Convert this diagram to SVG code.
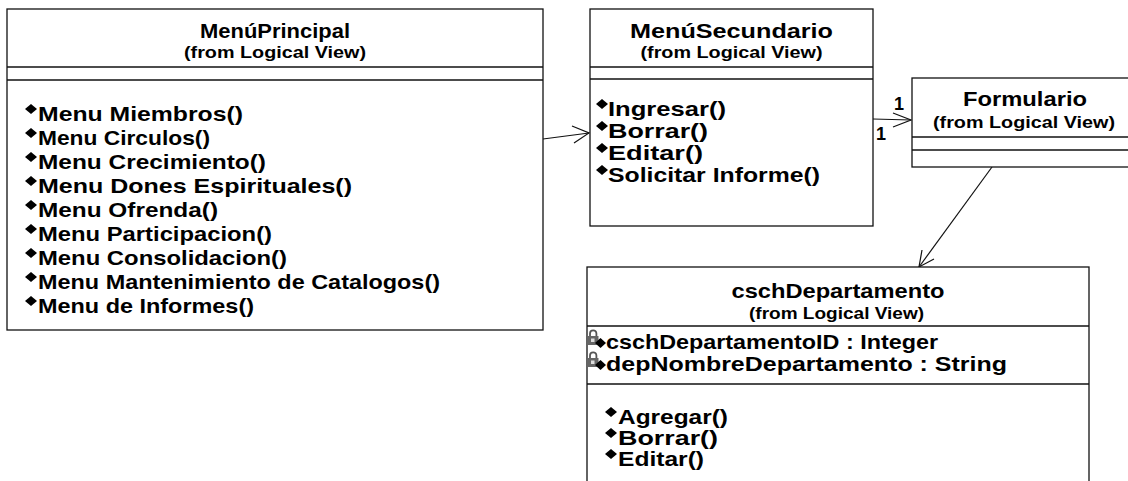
<svg xmlns="http://www.w3.org/2000/svg" width="1128" height="481" viewBox="0 0 1128 481">
  <defs>
    <style>
      .box { fill: #ffffff; stroke: #111111; stroke-width: 1.3; }
      .div { stroke: #111111; stroke-width: 1.3; }
      .t { font-family: "Liberation Sans", Arial, sans-serif; font-weight: bold; fill: #000000; }
      .title { font-size: 21px; }
      .from { font-size: 16px; }
      .m { font-size: 20.5px; }
      .conn { fill: none; stroke: #111111; stroke-width: 1.2; }
      .mult { font-size: 18px; }
    </style>
    <path id="op" d="M0,-5 L6,0 L0,5 L-6,0 Z" fill="#000000"/>
    <g id="attr">
      <path d="M-4,-3 L-4,-5.5 A3.2,3.2 0 0 1 2.4,-5.5 L2.4,-3" fill="none" stroke="#555" stroke-width="1.8"/>
      <rect x="-6.5" y="-3" width="11" height="9" fill="#666"/>
      <rect x="-3" y="-0.5" width="3.5" height="3.5" fill="#ddd"/>
      <path d="M6.5,-1 L12,4 L6.5,9 L1,4 Z" fill="#000"/>
    </g>
  </defs>
  <rect width="1128" height="481" fill="#ffffff"/>

  <g id="connectors">
    <line class="conn" x1="543" y1="139" x2="589" y2="133"/>
    <polyline class="conn" points="572,126 589,133 574,143"/>
    <line class="conn" x1="873" y1="119" x2="911" y2="120"/>
    <polyline class="conn" points="893,113 911,120 893,127"/>
    <text class="t mult" x="894" y="110">1</text>
    <text class="t mult" x="876" y="140">1</text>
    <line class="conn" x1="992" y1="167" x2="919" y2="267"/>
    <polyline class="conn" points="934,259 919,267 922,250"/>
  </g>

  <g id="MenuPrincipal">
    <rect class="box" x="7" y="9" width="536" height="321"/>
    <line class="div" x1="7" y1="67" x2="543" y2="67"/>
    <line class="div" x1="7" y1="80" x2="543" y2="80"/>
    <text class="t title" x="200" y="38" textLength="150" lengthAdjust="spacingAndGlyphs">MenúPrincipal</text>
    <text class="t from" x="184" y="58" textLength="182" lengthAdjust="spacingAndGlyphs">(from Logical View)</text>
    <use href="#op" x="31" y="109"/>
    <text class="t m" x="38" y="121" textLength="205" lengthAdjust="spacingAndGlyphs">Menu Miembros()</text>
    <use href="#op" x="31" y="133"/>
    <text class="t m" x="38" y="145" textLength="172" lengthAdjust="spacingAndGlyphs">Menu Circulos()</text>
    <use href="#op" x="31" y="157"/>
    <text class="t m" x="38" y="169" textLength="228" lengthAdjust="spacingAndGlyphs">Menu Crecimiento()</text>
    <use href="#op" x="31" y="181"/>
    <text class="t m" x="38" y="193" textLength="314" lengthAdjust="spacingAndGlyphs">Menu Dones Espirituales()</text>
    <use href="#op" x="31" y="205"/>
    <text class="t m" x="38" y="217" textLength="180" lengthAdjust="spacingAndGlyphs">Menu Ofrenda()</text>
    <use href="#op" x="31" y="229"/>
    <text class="t m" x="38" y="241" textLength="234" lengthAdjust="spacingAndGlyphs">Menu Participacion()</text>
    <use href="#op" x="31" y="253"/>
    <text class="t m" x="38" y="265" textLength="249" lengthAdjust="spacingAndGlyphs">Menu Consolidacion()</text>
    <use href="#op" x="31" y="277"/>
    <text class="t m" x="38" y="289" textLength="402" lengthAdjust="spacingAndGlyphs">Menu Mantenimiento de Catalogos()</text>
    <use href="#op" x="31" y="301"/>
    <text class="t m" x="38" y="313" textLength="216" lengthAdjust="spacingAndGlyphs">Menu de Informes()</text>
  </g>

  <g id="MenuSecundario">
    <rect class="box" x="590" y="9" width="283" height="217"/>
    <line class="div" x1="590" y1="67" x2="873" y2="67"/>
    <line class="div" x1="590" y1="79" x2="873" y2="79"/>
    <text class="t title" x="630" y="38" textLength="203" lengthAdjust="spacingAndGlyphs">MenúSecundario</text>
    <text class="t from" x="640.5" y="58" textLength="182" lengthAdjust="spacingAndGlyphs">(from Logical View)</text>
    <use href="#op" x="602" y="104"/>
    <text class="t m" x="608" y="116" textLength="118" lengthAdjust="spacingAndGlyphs">Ingresar()</text>
    <use href="#op" x="602" y="126"/>
    <text class="t m" x="608" y="138" textLength="100" lengthAdjust="spacingAndGlyphs">Borrar()</text>
    <use href="#op" x="602" y="148"/>
    <text class="t m" x="608" y="160" textLength="95" lengthAdjust="spacingAndGlyphs">Editar()</text>
    <use href="#op" x="602" y="170"/>
    <text class="t m" x="608" y="182" textLength="212" lengthAdjust="spacingAndGlyphs">Solicitar Informe()</text>
  </g>

  <g id="Formulario">
    <rect class="box" x="912" y="78" width="226" height="89"/>
    <line class="div" x1="912" y1="137" x2="1138" y2="137"/>
    <line class="div" x1="912" y1="150" x2="1138" y2="150"/>
    <text class="t title" x="963" y="106" textLength="124" lengthAdjust="spacingAndGlyphs">Formulario</text>
    <text class="t from" x="933" y="128" textLength="182" lengthAdjust="spacingAndGlyphs">(from Logical View)</text>
  </g>

  <g id="cschDepartamento">
    <rect class="box" x="587" y="267" width="502" height="230"/>
    <line class="div" x1="587" y1="326" x2="1089" y2="326"/>
    <line class="div" x1="587" y1="384" x2="1089" y2="384"/>
    <text class="t title" x="731.5" y="298" textLength="213" lengthAdjust="spacingAndGlyphs">cschDepartamento</text>
    <text class="t from" x="749" y="319" textLength="175" lengthAdjust="spacingAndGlyphs">(from Logical View)</text>
    <use href="#attr" x="594" y="339"/>
    <text class="t m" x="606" y="349" textLength="332" lengthAdjust="spacingAndGlyphs">cschDepartamentoID : Integer</text>
    <use href="#attr" x="594" y="361"/>
    <text class="t m" x="606" y="371" textLength="401" lengthAdjust="spacingAndGlyphs">depNombreDepartamento : String</text>
    <use href="#op" x="611" y="412"/>
    <text class="t m" x="618" y="424" textLength="110" lengthAdjust="spacingAndGlyphs">Agregar()</text>
    <use href="#op" x="611" y="433"/>
    <text class="t m" x="618" y="445" textLength="100" lengthAdjust="spacingAndGlyphs">Borrar()</text>
    <use href="#op" x="611" y="454"/>
    <text class="t m" x="618" y="466" textLength="86" lengthAdjust="spacingAndGlyphs">Editar()</text>
  </g>
</svg>
